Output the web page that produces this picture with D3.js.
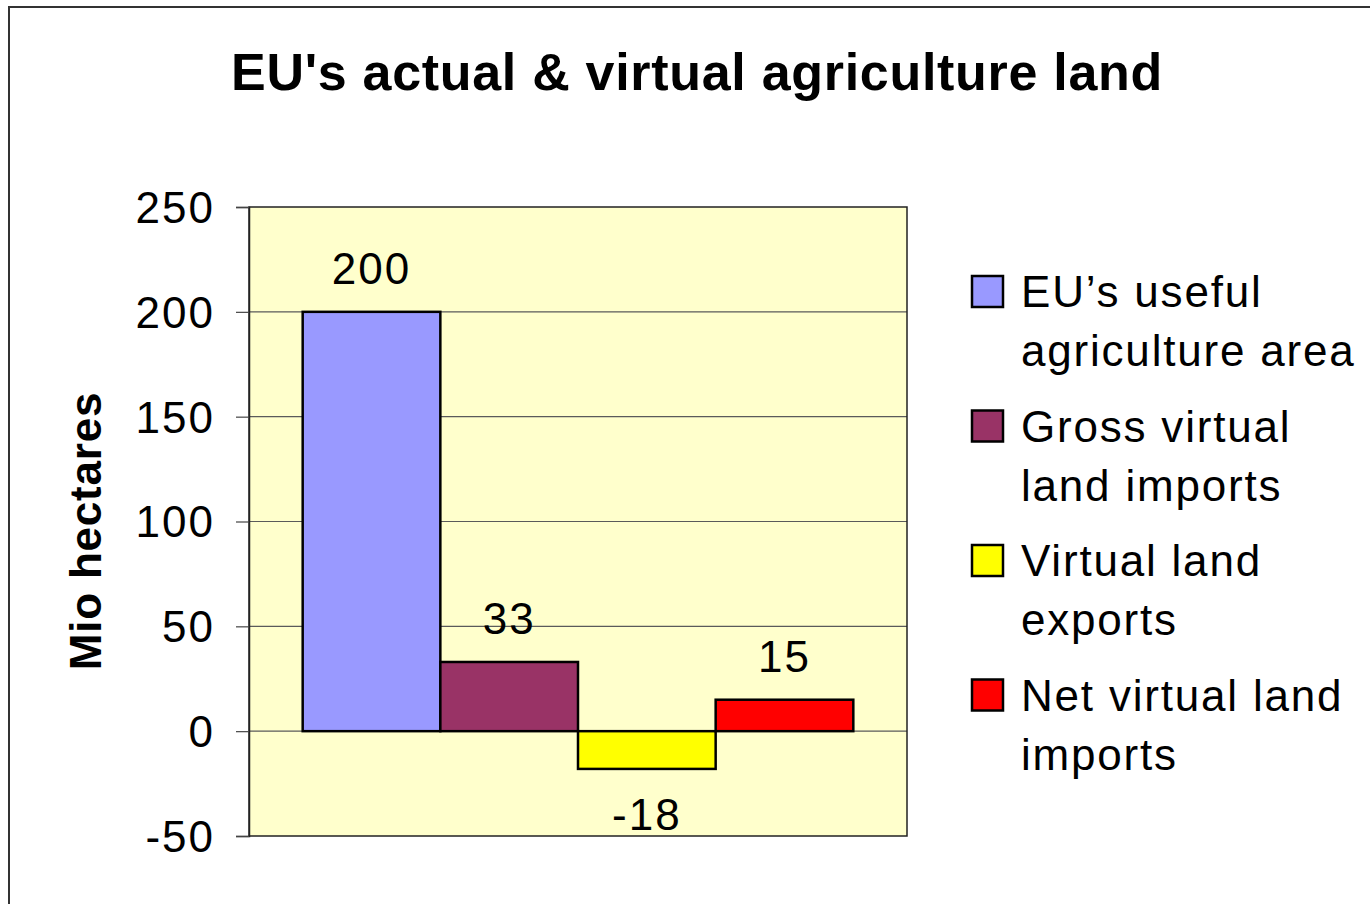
<!DOCTYPE html>
<html>
<head>
<meta charset="utf-8">
<script src="https://cdn.jsdelivr.net/npm/d3@7"></script>
<style>
  html, body { margin: 0; padding: 0; background: #fff; }
  svg { display: block; font-family: "Liberation Sans", Arial, sans-serif; }
</style>
</head>
<body>
<svg id="chart" width="1370" height="904"></svg>
<script>
// Series shown as adjacent bars, one category
const seriesNames = [
  "EU\u2019s useful agriculture area",
  "Gross virtual land imports",
  "Virtual land exports",
  "Net virtual land imports"
];
const legendLines = [
  ["EU\u2019s useful", "agriculture area"],
  ["Gross virtual", "land imports"],
  ["Virtual land", "exports"],
  ["Net virtual land", "imports"]
];
const seriesValues = [200, 33, -18, 15];
const seriesColors = ["#9999FF", "#993366", "#FFFF00", "#FF0000"];
const yTicks = [-50, 0, 50, 100, 150, 200, 250];
const chartTitle = "EU's actual & virtual agriculture land";
const yTitle = "Mio hectares";

const svg = d3.select("#chart");

// outer frame (runs off the right and bottom edges)
svg.append("rect")
  .attr("x", 9).attr("y", 7)
  .attr("width", 1400).attr("height", 940)
  .attr("fill", "#fff")
  .attr("stroke", "#333").attr("stroke-width", 2);

const plot = { left: 249, top: 207, right: 907, bottom: 836 };

const y = d3.scaleLinear().domain([-50, 250]).range([plot.bottom, plot.top]);
const x = d3.scaleBand()
  .domain(seriesNames)
  .range([plot.left, plot.right])
  .paddingInner(0)
  .paddingOuter(0.39);

// plot background
svg.append("rect")
  .attr("x", plot.left).attr("y", plot.top)
  .attr("width", plot.right - plot.left).attr("height", plot.bottom - plot.top)
  .attr("fill", "#FFFFCC");

// horizontal gridlines
svg.append("g").selectAll("line")
  .data(yTicks.filter(t => t !== -50 && t !== 250))
  .join("line")
  .attr("x1", plot.left).attr("x2", plot.right)
  .attr("y1", d => y(d)).attr("y2", d => y(d))
  .attr("stroke", "#5a5a5a").attr("stroke-width", 1.2);

// plot border
svg.append("rect")
  .attr("x", plot.left).attr("y", plot.top)
  .attr("width", plot.right - plot.left).attr("height", plot.bottom - plot.top)
  .attr("fill", "none")
  .attr("stroke", "#222").attr("stroke-width", 1.5);

// y axis (plain hyphen for negatives)
const yAxis = d3.axisLeft(y)
  .tickValues(yTicks)
  .tickFormat(d => String(d))
  .tickSize(13)
  .tickPadding(21);
const gy = svg.append("g")
  .attr("transform", `translate(${plot.left},0)`)
  .call(yAxis);
gy.select(".domain").attr("stroke", "#222").attr("stroke-width", 1.5);
gy.selectAll(".tick line").attr("stroke", "#444").attr("stroke-width", 1.2);
gy.selectAll(".tick text")
  .attr("font-size", 44)
  .attr("font-family", "'Liberation Sans', Arial, sans-serif")
  .attr("fill", "#000")
  .attr("letter-spacing", 2)
  .attr("dy", "0.35em");

// bars
svg.append("g").selectAll("rect")
  .data(seriesNames)
  .join("rect")
  .attr("x", d => x(d))
  .attr("width", x.bandwidth())
  .attr("y", (d, i) => y(Math.max(0, seriesValues[i])))
  .attr("height", (d, i) => Math.abs(y(seriesValues[i]) - y(0)))
  .attr("fill", (d, i) => seriesColors[i])
  .attr("stroke", "#000").attr("stroke-width", 2.5);

// value labels
svg.append("g").selectAll("text")
  .data(seriesNames)
  .join("text")
  .attr("x", d => x(d) + x.bandwidth() / 2)
  .attr("y", (d, i) => seriesValues[i] >= 0 ? y(seriesValues[i]) - 28 : y(seriesValues[i]) + 61)
  .attr("text-anchor", "middle")
  .attr("font-size", 44)
  .attr("letter-spacing", 2)
  .attr("fill", "#000")
  .text((d, i) => String(seriesValues[i]));

// title
svg.append("text")
  .attr("x", 697).attr("y", 90)
  .attr("text-anchor", "middle")
  .attr("font-size", 52)
  .attr("font-weight", "bold")
  .attr("letter-spacing", 0.7)
  .text(chartTitle);

// y axis title
svg.append("text")
  .attr("transform", "translate(101,531) rotate(-90)")
  .attr("text-anchor", "middle")
  .attr("font-size", 44)
  .attr("font-weight", "bold")
  .attr("letter-spacing", 0.8)
  .text(yTitle);

// legend
const legend = svg.append("g").selectAll("g")
  .data(seriesNames)
  .join("g")
  .attr("transform", (d, i) => `translate(972,${276 + i * 134.5})`);
legend.append("rect")
  .attr("width", 31).attr("height", 31)
  .attr("fill", (d, i) => seriesColors[i])
  .attr("stroke", "#000").attr("stroke-width", 2.5);
legend.each(function(d, i) {
  const t = d3.select(this).append("text")
    .attr("font-size", 44)
    .attr("letter-spacing", 1.8)
    .attr("fill", "#000");
  legendLines[i].forEach((line, k) => {
    t.append("tspan").attr("x", 49).attr("y", 31 + k * 59).text(line);
  });
});
</script>
</body>
</html>
